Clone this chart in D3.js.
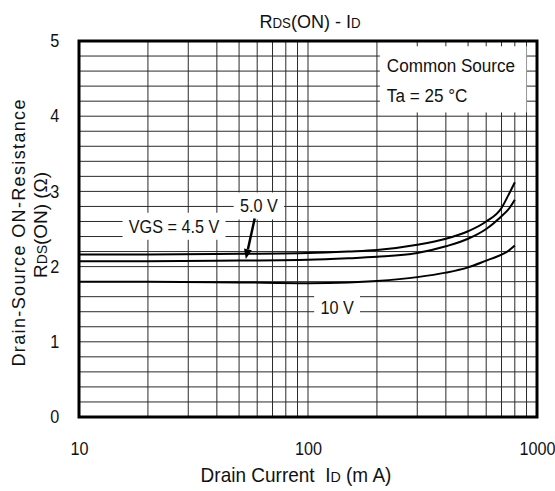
<!DOCTYPE html>
<html>
<head>
<meta charset="utf-8">
<script src="https://cdn.jsdelivr.net/npm/d3@7"></script>
<style>
  body { margin: 0; background: #fff; }
  svg { display: block; font-family: "Liberation Sans", Arial, sans-serif; }
</style>
</head>
<body>
<svg width="555" height="491"></svg>
<script>
// drain current points (mA) shared by the three curves
var drainCurrent = [10, 20, 50, 100, 150, 200, 300, 400, 500, 600, 700, 750, 800]
var rds45 = [2.16, 2.16, 2.17, 2.18, 2.20, 2.22, 2.29, 2.37, 2.47, 2.60, 2.78, 2.95, 3.12]
var rds50 = [2.07, 2.07, 2.08, 2.09, 2.11, 2.13, 2.18, 2.27, 2.37, 2.50, 2.67, 2.76, 2.89]
var rds10 = [1.80, 1.80, 1.79, 1.78, 1.79, 1.81, 1.86, 1.92, 1.99, 2.08, 2.16, 2.21, 2.28]

var xTicks = [10, 100, 1000]
var yTicks = [0, 1, 2, 3, 4, 5]
var xGrid = [20, 30, 40, 50, 60, 70, 80, 90, 100, 200, 300, 400, 500, 600, 700, 800, 900]
var yGrid = d3.range(1, 25).map(function (i) { return i / 5 })

// curve labels, placed in data units (text centre, baseline)
var curveLabels = [
    {text: "VGS = 4.5 V", mA: 26, v: 2.45},
    {text: "5.0 V", mA: 61, v: 2.72},
    {text: "10 V", mA: 134, v: 1.37}
]
var arrow = {from: [58.5, 2.64], to: [53.5, 2.10]}

var svg = d3.select("svg"),
    width = +svg.attr("width"),
    height = +svg.attr("height");

var SX = 0.9  // source font looks a bit condensed
var pLeft = 79, pRight = 537, pTop = 41, pBottom = 417

var x = d3.scaleLog().domain([10, 1000]).range([pLeft, pRight])
var y = d3.scaleLinear().domain([0, 5]).range([pBottom, pTop])

// grid
var grid = svg.append("g").attr("stroke", "#2a2a2a").attr("stroke-width", 1)
grid.selectAll("line.v")
    .data(xGrid)
    .enter().append("line")
    .attr("class", "v")
    .attr("x1", function (d) { return x(d) }).attr("x2", function (d) { return x(d) })
    .attr("y1", pTop).attr("y2", pBottom)
grid.selectAll("line.h")
    .data(yGrid)
    .enter().append("line")
    .attr("class", "h")
    .attr("x1", pLeft).attr("x2", pRight)
    .attr("y1", function (d) { return y(d) }).attr("y2", function (d) { return y(d) })

// legend box (Common Source)
svg.append("rect")
    .attr("x", x(206)).attr("y", y(4.93))
    .attr("width", x(900) - x(206)).attr("height", y(4.05) - y(4.93))
    .attr("fill", "#fff")

function label(g, px, py, anchor, parts, size, sx) {
    var t = g.append("text")
        .attr("transform", "translate(" + px + "," + py + ") scale(" + (sx || SX) + ",1)")
        .attr("text-anchor", anchor)
        .attr("font-size", size)
        .attr("fill", "#111")
    parts.forEach(function (p) {
        t.append("tspan").attr("font-size", p[1] || size).text(p[0])
    })
    return t
}

var notes = svg.append("g")
label(notes, x(221), y(4.587), "start", [["Common Source"]], 19)
label(notes, x(221), y(4.187), "start", [["Ta = 25 °C"]], 19)

// curve labels with white boxes
curveLabels.forEach(function (d) {
    var g = svg.append("g")
    var t = label(g, x(d.mA), y(d.v), "middle", [[d.text]], 18)
    var w = t.node().getBBox().width * SX
    g.insert("rect", "text")
        .attr("x", x(d.mA) - w / 2 - 6)
        .attr("y", y(d.v) - 20)
        .attr("width", w + 12)
        .attr("height", 27)
        .attr("fill", "#fff")
})

// curves
var line = d3.line()
    .x(function (d) { return x(d[0]) })
    .y(function (d) { return y(d[1]) })
    .curve(d3.curveMonotoneX)

var series = [rds45, rds50, rds10]
svg.append("g").selectAll("path")
    .data(series)
    .enter().append("path")
    .attr("d", function (s) { return line(drainCurrent.map(function (c, i) { return [c, s[i]] })) })
    .attr("fill", "none")
    .attr("stroke", "#000")
    .attr("stroke-width", 2)

// arrow to the 5.0 V curve
var ax1 = x(arrow.from[0]), ay1 = y(arrow.from[1]), ax2 = x(arrow.to[0]), ay2 = y(arrow.to[1])
var ang = Math.atan2(ay2 - ay1, ax2 - ax1)
var headLen = 10, headW = 4
var bx = ax2 - headLen * Math.cos(ang), by = ay2 - headLen * Math.sin(ang)
svg.append("line")
    .attr("x1", ax1).attr("y1", ay1).attr("x2", bx).attr("y2", by)
    .attr("stroke", "#000").attr("stroke-width", 2.5)
svg.append("path")
    .attr("d", "M" + ax2 + "," + ay2 +
        "L" + (bx + headW * Math.sin(ang)) + "," + (by - headW * Math.cos(ang)) +
        "L" + (bx - headW * Math.sin(ang)) + "," + (by + headW * Math.cos(ang)) + "Z")
    .attr("fill", "#000")

// frame
svg.append("rect")
    .attr("x", pLeft).attr("y", pTop)
    .attr("width", pRight - pLeft).attr("height", pBottom - pTop)
    .attr("fill", "none").attr("stroke", "#000").attr("stroke-width", 3)

// axes
var xAxis = svg.append("g")
    .attr("transform", "translate(0," + pBottom + ")")
    .call(d3.axisBottom(x).tickValues(xTicks).tickSize(0).tickPadding(26).tickFormat(d3.format("d")))
var yAxis = svg.append("g")
    .attr("transform", "translate(" + pLeft + ",0)")
    .call(d3.axisLeft(y).tickValues(yTicks).tickSize(0).tickPadding(22).tickFormat(d3.format("d")))
;[xAxis, yAxis].forEach(function (a) {
    a.select(".domain").remove()
    a.selectAll("text")
        .attr("font-size", 18)
        .attr("font-family", "Liberation Sans, Arial, sans-serif")
        .attr("fill", "#111")
        .attr("transform", "scale(" + SX + ",1)")
})
xAxis.selectAll("text").attr("dy", "0.71em").attr("y", 25)

// titles
var titles = svg.append("g")
label(titles, (pLeft + pRight) / 2 + 2, 28, "middle", [["R"], ["DS", 14], ["(ON) - I"], ["D", 14]], 19, 0.95)
label(titles, (pLeft + pRight) / 2 - 12, 482, "middle", [["Drain Current\u00a0 I"], ["D", 15], [" (m A)"]], 20, 0.95)

titles.append("text")
    .attr("transform", "translate(25,233) rotate(-90)")
    .attr("text-anchor", "middle")
    .attr("font-size", 18)
    .attr("fill", "#111")
    .attr("textLength", 267)
    .attr("lengthAdjust", "spacing")
    .text("Drain-Source ON-Resistance")
var yt = titles.append("text")
    .attr("transform", "translate(47,225) rotate(-90)")
    .attr("text-anchor", "middle")
    .attr("font-size", 19)
    .attr("fill", "#111")
    .attr("textLength", 106)
    .attr("lengthAdjust", "spacing")
yt.append("tspan").text("R")
yt.append("tspan").attr("font-size", 14).text("DS")
yt.append("tspan").text("(ON) (Ω)")
</script>
</body>
</html>
